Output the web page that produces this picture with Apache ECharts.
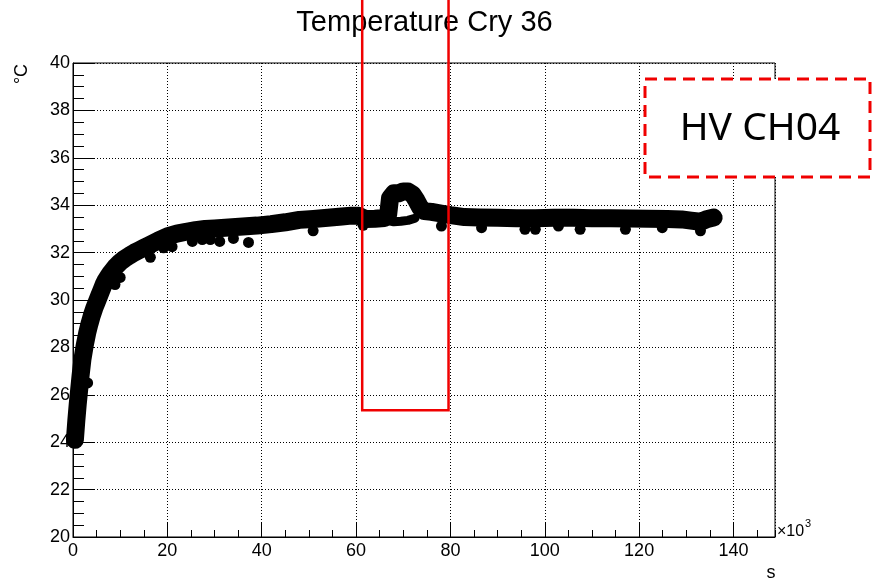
<!DOCTYPE html>
<html>
<head>
<meta charset="utf-8">
<script src="https://cdn.jsdelivr.net/npm/echarts@6/dist/echarts.min.js"></script>
<style>
html,body{margin:0;padding:0;background:#fff;}
#chart{width:882px;height:579px;}
</style>
</head>
<body>
<div id="chart"></div>
<script>
// ---- data (time in 10^3 s, temperature in °C) ----
const timeKs = [0.4, 0.7, 1.0, 1.3, 1.6, 2.0, 2.5, 3.0, 3.5, 4.0, 4.5, 5.0, 5.5, 6.0, 6.5, 7.0, 7.5, 8.0, 9.0, 10, 11, 12, 13, 14, 15, 16, 18, 20, 22, 24, 26, 28, 30, 33, 36, 39, 42, 45, 48, 51, 54, 57, 59, 60.5, 62, 64, 66, 66.8, 67.2, 68, 69, 70, 71, 72, 72.8, 73.6, 74.5, 76, 78, 80, 83, 86, 90, 94, 98, 102, 106, 110, 114, 118, 122, 126, 129, 131, 133, 134.5, 135.8];
const tempC  = [24.1, 24.9, 25.6, 26.2, 26.8, 27.5, 28.1, 28.6, 29.0, 29.35, 29.65, 29.9, 30.15, 30.4, 30.65, 30.85, 31.0, 31.15, 31.4, 31.6, 31.75, 31.88, 32.0, 32.1, 32.2, 32.3, 32.5, 32.68, 32.8, 32.88, 32.95, 33.0, 33.02, 33.06, 33.1, 33.14, 33.2, 33.28, 33.38, 33.42, 33.47, 33.52, 33.56, 33.55, 33.42, 33.43, 33.46, 33.6, 34.3, 34.5, 34.5, 34.58, 34.58, 34.45, 34.2, 33.9, 33.75, 33.72, 33.65, 33.58, 33.5, 33.48, 33.47, 33.45, 33.45, 33.47, 33.47, 33.45, 33.45, 33.44, 33.43, 33.42, 33.4, 33.35, 33.3, 33.42, 33.48];
const underTimeKs = [66.8, 68, 69.5, 71, 72.5];
const underTempC  = [33.35, 33.3, 33.32, 33.36, 33.45];
const dipTimeKs = [3.1, 8.9, 10.0, 16.4, 19.2, 21.0, 25.3, 27.4, 29.1, 31.1, 34.0, 37.2, 50.9, 61.5, 78.1, 86.6, 95.8, 98.0, 102.9, 107.5, 117.1, 124.9, 133.0];
const dipTempC  = [26.5, 30.65, 30.95, 31.8, 32.2, 32.25, 32.47, 32.55, 32.55, 32.47, 32.6, 32.43, 32.92, 33.15, 33.12, 33.05, 32.98, 32.98, 33.12, 32.98, 32.98, 33.05, 32.92];
// axes
const xMin = 0, xMax = 148.8, xMajor = 20, xMinor = 5;
const yMin = 20, yMax = 40, yMajor = 2;
// annotation: HV window (x range in 10^3 s, lower temperature bound)
const hvWindow = [61.3, 79.6];
const hvBottom = 25.35;
const titleText = 'Temperature Cry 36';
const boxText = 'HV CH04';

const pairs = (a, b) => a.map((v, i) => [v, b[i]]);
const FONT = 'Liberation Sans, Arial, Helvetica, sans-serif';

const chart = echarts.init(document.getElementById('chart'), null, {renderer: 'canvas'});
chart.setOption({
  animation: false,
  backgroundColor: '#fff',
  grid: {left: 73, right: 107, top: 63, bottom: 42, show: true, borderColor: '#000', borderWidth: 1, backgroundColor: 'transparent', outerBoundsMode: 'none', containLabel: false},
  xAxis: [{
    type: 'value', min: xMin, max: xMax, interval: xMajor, position: 'bottom',
    axisLine: {show: true, onZero: false, lineStyle: {color: '#000', width: 1}},
    axisTick: {show: true, inside: true, length: 14, lineStyle: {color: '#000', width: 1}},
    axisLabel: {show: true, color: '#000', fontSize: 18, fontFamily: FONT, margin: 5, showMaxLabel: false},
    splitLine: {show: true, lineStyle: {color: '#000', width: 1, type: [1, 2]}}
  }, {
    type: 'value', min: xMin, max: xMax, interval: xMinor, position: 'bottom',
    axisLine: {show: false},
    axisTick: {show: true, inside: true, length: 7, lineStyle: {color: '#000', width: 1}},
    axisLabel: {show: false},
    splitLine: {show: false}
  }],
  yAxis: {
    type: 'value', min: yMin, max: yMax, interval: yMajor,
    axisLine: {show: true, onZero: false, lineStyle: {color: '#000', width: 1}},
    axisTick: {show: true, inside: true, length: 21, lineStyle: {color: '#000', width: 1}},
    minorTick: {show: true, splitNumber: 4, length: 11, lineStyle: {color: '#000', width: 1}},
    axisLabel: {show: true, color: '#000', fontSize: 18, fontFamily: FONT, margin: 3},
    splitLine: {show: true, lineStyle: {color: '#000', width: 1, type: [1, 2]}}
  },
  series: [{
    type: 'line', name: 'under', data: pairs(underTimeKs, underTempC), symbol: 'none',
    lineStyle: {color: '#000', width: 9, cap: 'round', join: 'round', opacity: 1}, z: 3
  }, {
    type: 'line', name: 'temperature', data: pairs(timeKs, tempC), symbol: 'none',
    lineStyle: {color: '#000', width: 18, cap: 'round', join: 'round', opacity: 1}, z: 3
  }, {
    type: 'scatter', name: 'points', data: pairs(dipTimeKs, dipTempC), symbol: 'circle', symbolSize: 11,
    itemStyle: {color: '#000', opacity: 1}, z: 4
  }],
  graphic: {elements: [
    {type: 'text', id: 'title', x: 424.5, y: 23, z: 50, style: {text: titleText, font: '29px ' + FONT, fill: '#000', textAlign: 'center', textVerticalAlign: 'middle'}},
    {type: 'text', id: 'yname', x: 22.5, y: 74, rotation: Math.PI / 2, z: 50, style: {text: '°C', font: '18px ' + FONT, fill: '#000', textAlign: 'center', textVerticalAlign: 'middle'}},
    {type: 'text', id: 'xname', x: 771, y: 573, z: 50, style: {text: 's', font: '18px ' + FONT, fill: '#000', textAlign: 'center', textVerticalAlign: 'middle'}},
    {type: 'text', id: 'xexp', x: 777, y: 532, z: 50, style: {text: '×10', font: '16px ' + FONT, fill: '#000', textAlign: 'left', textVerticalAlign: 'middle'}},
    {type: 'text', id: 'xexp3', x: 805, y: 524, z: 50, style: {text: '3', font: '11px ' + FONT, fill: '#000', textAlign: 'left', textVerticalAlign: 'middle'}}
  ]}
});

// annotation rectangles positioned from axis coordinates
const pA = chart.convertToPixel({xAxisIndex: 0, yAxisIndex: 0}, [hvWindow[0], hvBottom]);
const pB = chart.convertToPixel({xAxisIndex: 0, yAxisIndex: 0}, [hvWindow[1], yMax]);
chart.setOption({
  graphic: {elements: [
    {type: 'rect', id: 'hvRect', z: 100, shape: {x: pA[0], y: -10, width: pB[0] - pA[0], height: pA[1] + 10},
     style: {fill: 'none', stroke: '#f00000', lineWidth: 2.5}},
    {type: 'rect', id: 'box', z: 100, shape: {x: 645, y: 79, width: 225, height: 98},
     style: {fill: '#fff', stroke: '#f00000', lineWidth: 3, lineDash: [12, 7]}},
    {type: 'text', id: 'boxText', z: 101, x: 760, y: 129, style: {text: boxText, font: '39px "Noto Sans", sans-serif', fill: '#000', textAlign: 'center', textVerticalAlign: 'middle'}}
  ]}
});
</script>
</body>
</html>
